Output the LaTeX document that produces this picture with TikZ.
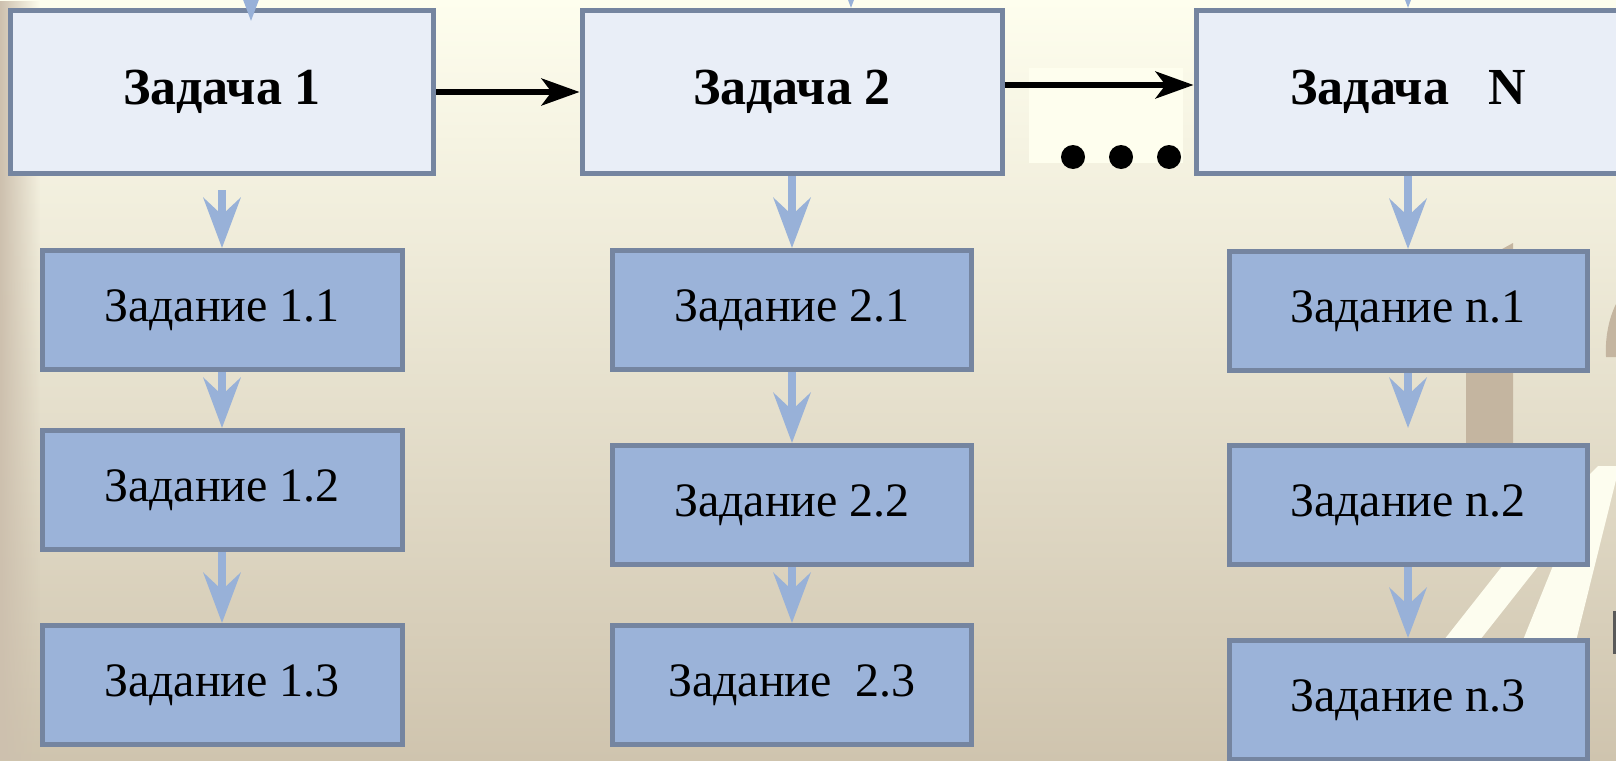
\documentclass[tikz,border=0pt]{standalone}
\usepackage{fontspec}
\setmainfont{Liberation Serif}
\usetikzlibrary{arrows.meta,positioning,fadings}

\definecolor{boxline}{RGB}{117,133,160}
\definecolor{taskfill}{RGB}{233,238,247}
\definecolor{subfill}{RGB}{155,179,217}
\definecolor{flowblue}{RGB}{152,177,216}
\definecolor{bgtop}{RGB}{254,254,238}
\definecolor{bgmid}{RGB}{237,232,214}
\definecolor{bgbot}{RGB}{207,196,174}
\definecolor{sand}{RGB}{196,181,160}
\definecolor{stripe}{RGB}{253,253,239}
\tikzfading[name=fade right, left color=transparent!0, right color=transparent!100]

\begin{document}
\begin{tikzpicture}[x=1pt, y=-1pt, font=\fontsize{48}{56}\selectfont,
  taskbox/.style={draw=boxline, line width=5pt, fill=taskfill, minimum width=423pt, minimum height=163pt, inner sep=0pt, font=\bfseries\fontsize{52}{60}\selectfont},
  subbox/.style={draw=boxline, line width=5pt, fill=subfill, minimum width=360pt, minimum height=119pt, inner sep=0pt},
  nextarrow/.style={line width=5.5pt, -{Stealth[length=38pt, width=27pt, inset=10pt]}},
  downarrow/.style={draw=flowblue, line width=8pt, -{Stealth[length=50pt, width=37pt, inset=17pt]}}]
\useasboundingbox (0,0) rectangle (1616,760);
\clip (0,0) rectangle (1616,760);
\shade[top color=bgtop, middle color=bgmid, bottom color=bgbot] (0,0) rectangle (1616,760);
\fill[sand!85, path fading=fade right] (0,0) rectangle (40,760);
% backdrop on the right
\fill[sand] (1466,269) -- (1513,243) -- (1513,450) -- (1466,450) -- cycle;
\fill[sand] (1616,304) .. controls (1608,320) and (1605,340) .. (1606,357) -- (1616,357) -- cycle;
\fill[stripe] (1440,645) -- (1476,645) -- (1543,560) -- (1507,560) -- cycle;
\fill[stripe] (1521,645) -- (1575,645) -- (1616,480) -- (1616,466) -- (1598,466) -- (1590,474) -- cycle;
\fill[black!65] (1613,611) rectangle (1616,654);
\fill[bgtop] (1029,68) rectangle (1183,163);

\node[taskbox] (t1) at (222,92) {Задача 1};
\node[taskbox, minimum width=420pt] (t2) at (792,92) {Задача 2};
\node[taskbox, minimum width=424pt] (tn) at (1408,92) {Задача\ \ \ N};

\node[subbox, below=72pt of t1] (s11) {Задание 1.1};
\node[subbox, below=56pt of s11] (s12) {Задание 1.2};
\node[subbox, below=71pt of s12] (s13) {Задание 1.3};
\node[subbox, minimum width=359pt, below=72pt of t2] (s21) {Задание 2.1};
\node[subbox, minimum width=359pt, below=71pt of s21] (s22) {Задание 2.2};
\node[subbox, minimum width=359pt, below=56pt of s22] (s23) {Задание\ \ 2.3};
\node[subbox, minimum width=358pt, below=73pt of tn] (sn1) {Задание n.1};
\node[subbox, minimum width=358pt, below=70pt of sn1] (sn2) {Задание n.2};
\node[subbox, minimum width=358pt, below=71pt of sn2] (sn3) {Задание n.3};

\coordinate (in1) at (251,-70);
\coordinate (in2) at (851,-70);
\coordinate (inn) at (1408,-70);
\draw[downarrow, shorten >=-13pt] (in1) -- (in1 |- t1.north);
\draw[downarrow] (in2) -- (in2 |- t2.north);
\draw[downarrow] (inn) -- (tn);

\draw[downarrow, shorten <=14pt] (t1) -- (s11);
\draw[downarrow] (s11) -- (s12);
\draw[downarrow] (s12) -- (s13);
\draw[downarrow] (t2) -- (s21);
\draw[downarrow] (s21) -- (s22);
\draw[downarrow] (s22) -- (s23);
\draw[downarrow] (tn) -- (sn1);
\draw[downarrow, shorten >=15pt] (sn1) -- (sn2);
\draw[downarrow] (sn2) -- (sn3);

\draw[nextarrow] (t1) -- (t2);
\draw[nextarrow] ([yshift=7pt]t2.east) -- ([yshift=7pt]tn.west);
\foreach \x in {1073,1121,1169}
  \fill (\x,157) circle[radius=12pt];
\end{tikzpicture}
\end{document}
